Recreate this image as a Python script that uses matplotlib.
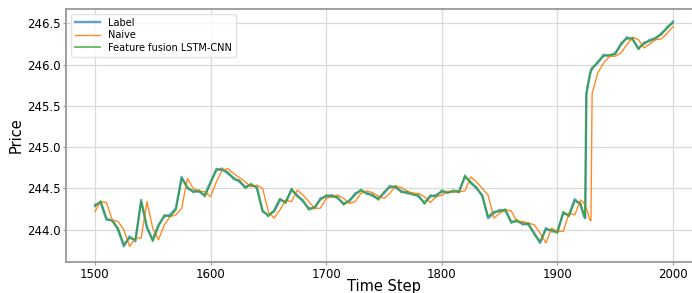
import matplotlib
matplotlib.use("Agg")
import matplotlib.pyplot as plt

# time steps (5-step grid, denser around the jump)
steps = [1500, 1505, 1510, 1515, 1520, 1525, 1530, 1535, 1540, 1545,
         1550, 1555, 1560, 1565, 1570, 1575, 1580, 1585, 1590, 1595,
         1600, 1605, 1610, 1615, 1620, 1625, 1630, 1635, 1640, 1645,
         1650, 1655, 1660, 1665, 1670, 1675, 1680, 1685, 1690, 1695,
         1700, 1705, 1710, 1715, 1720, 1725, 1730, 1735, 1740, 1745,
         1750, 1755, 1760, 1765, 1770, 1775, 1780, 1785, 1790, 1795,
         1800, 1805, 1810, 1815, 1820, 1825, 1830, 1835, 1840, 1845,
         1850, 1855, 1860, 1865, 1870, 1875, 1880, 1885, 1890, 1895,
         1900, 1905, 1910, 1915, 1920, 1923, 1924, 1925, 1926, 1928,
         1929, 1930, 1935, 1940, 1945, 1950, 1955, 1960, 1965, 1970,
         1975, 1980, 1985, 1990, 1995, 2000]

label = [244.30, 244.33, 244.12, 244.12, 244.00, 243.80, 243.92, 243.86, 244.36, 244.02,
         243.88, 244.06, 244.16, 244.18, 244.26, 244.64, 244.50, 244.47, 244.46, 244.42,
         244.58, 244.72, 244.74, 244.68, 244.63, 244.58, 244.52, 244.54, 244.52, 244.22,
         244.18, 244.22, 244.36, 244.34, 244.48, 244.42, 244.34, 244.26, 244.26, 244.38,
         244.40, 244.42, 244.38, 244.32, 244.34, 244.44, 244.47, 244.45, 244.41, 244.38,
         244.44, 244.53, 244.51, 244.47, 244.44, 244.44, 244.40, 244.33, 244.40, 244.42,
         244.46, 244.46, 244.46, 244.47, 244.64, 244.58, 244.50, 244.42, 244.14, 244.20,
         244.24, 244.23, 244.10, 244.10, 244.08, 244.06, 243.96, 243.84, 244.02, 243.98,
         243.98, 244.20, 244.18, 244.37, 244.30, 244.16, 244.14, 245.65, 245.72, 245.88,
         245.92, 245.96, 246.02, 246.12, 246.10, 246.14, 246.24, 246.33, 246.30, 246.20,
         246.25, 246.30, 246.31, 246.38, 246.44, 246.52]

naive = [244.22, 244.34, 244.33, 244.12, 244.10, 244.00, 243.80, 243.90, 243.90, 244.34,
         244.02, 243.88, 244.06, 244.16, 244.18, 244.26, 244.62, 244.50, 244.47, 244.46,
         244.40, 244.58, 244.72, 244.74, 244.68, 244.63, 244.58, 244.52, 244.54, 244.50,
         244.22, 244.14, 244.24, 244.36, 244.34, 244.48, 244.42, 244.34, 244.26, 244.26,
         244.38, 244.40, 244.42, 244.38, 244.32, 244.34, 244.44, 244.47, 244.45, 244.41,
         244.38, 244.44, 244.53, 244.51, 244.47, 244.44, 244.44, 244.40, 244.33, 244.40,
         244.42, 244.46, 244.46, 244.46, 244.47, 244.64, 244.58, 244.50, 244.42, 244.14,
         244.20, 244.24, 244.23, 244.10, 244.10, 244.08, 244.06, 243.96, 243.84, 244.02,
         243.98, 243.98, 244.20, 244.18, 244.36, 244.32, 244.30, 244.26, 244.22, 244.12,
         244.11, 245.65, 245.90, 246.02, 246.10, 246.10, 246.14, 246.24, 246.33, 246.30,
         246.20, 246.25, 246.30, 246.31, 246.38, 246.46]

model = [244.28, 244.35, 244.14, 244.10, 244.02, 243.82, 243.90, 243.88, 244.34, 244.04,
         243.86, 244.04, 244.18, 244.16, 244.24, 244.62, 244.52, 244.45, 244.48, 244.40,
         244.56, 244.74, 244.72, 244.70, 244.61, 244.60, 244.50, 244.56, 244.50, 244.24,
         244.16, 244.24, 244.38, 244.32, 244.50, 244.40, 244.36, 244.24, 244.28, 244.36,
         244.42, 244.40, 244.40, 244.30, 244.36, 244.42, 244.49, 244.43, 244.43, 244.36,
         244.46, 244.51, 244.53, 244.45, 244.46, 244.42, 244.42, 244.31, 244.42, 244.40,
         244.48, 244.44, 244.48, 244.45, 244.66, 244.56, 244.52, 244.40, 244.16, 244.22,
         244.22, 244.25, 244.08, 244.12, 244.06, 244.08, 243.94, 243.86, 244.00, 244.00,
         243.96, 244.22, 244.16, 244.35, 244.32, 244.18, 244.15, 245.62, 245.74, 245.86,
         245.94, 245.94, 246.04, 246.10, 246.12, 246.12, 246.26, 246.31, 246.32, 246.18,
         246.27, 246.28, 246.33, 246.36, 246.46, 246.50]

fig = plt.figure(figsize=(6.92, 2.93), dpi=100)
ax = fig.add_axes([0.0954, 0.1058, 0.919, 0.863])

ax.plot(steps, label, color="#1f77b4", lw=1.7, alpha=0.7, label="Label")
ax.plot(steps, naive, color="#ff7f0e", lw=1.0, alpha=0.9, label="Naive")
ax.plot(steps, model, color="#2ca02c", lw=1.2, alpha=0.8, label="Feature fusion LSTM-CNN")

ax.set_xlim(1475, 2025)
ax.set_ylim(243.61, 246.67)
ax.set_xticks([1500, 1600, 1700, 1800, 1900, 2000])
ax.set_yticks([244.0, 244.5, 245.0, 245.5, 246.0, 246.5])
ax.grid(True, color="#d9d9d9", lw=0.9)
ax.set_axisbelow(True)
for s in ax.spines.values():
    s.set_color("#999999")
    s.set_linewidth(1.3)
ax.tick_params(labelsize=8.5, length=2, color="#999999", pad=2)

ax.set_xlabel("Time Step", fontsize=10.5, labelpad=-1)
ax.set_ylabel("Price", fontsize=10.5, labelpad=2)

leg = ax.legend(loc="upper left", fontsize=7, frameon=True, borderpad=0.4,
                handlelength=2.6, labelspacing=0.25)
leg.get_frame().set_edgecolor("#dddddd")

fig.savefig("out.png", dpi=100)
